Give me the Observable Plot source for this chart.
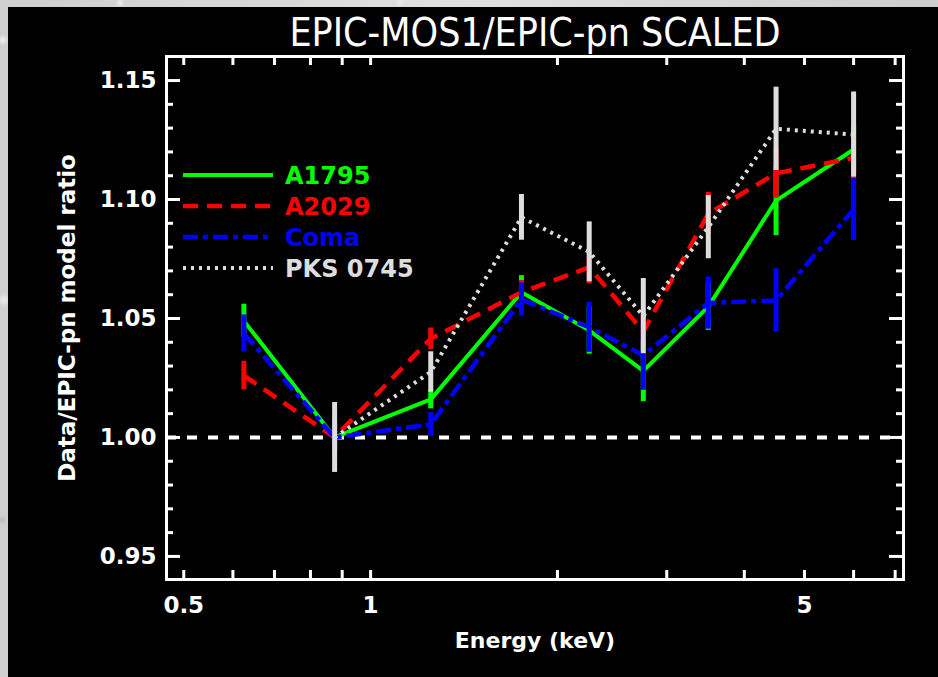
<!DOCTYPE html>
<html>
<head>
<meta charset="utf-8">
<script src="https://cdn.jsdelivr.net/npm/d3@7"></script>
<script src="https://cdn.jsdelivr.net/npm/@observablehq/plot@0.6"></script>
<style>
  html, body { margin: 0; padding: 0; }
  body {
    width: 938px; height: 677px; overflow: hidden; position: relative;
    background-color: #d4d4d4;
    background-image:
      radial-gradient(circle at 3px 40px, #efefef 0, transparent 6px),
      radial-gradient(circle at 120px 3px, #ececec 0, transparent 5px),
      radial-gradient(circle at 400px 2px, #e8e8e8 0, transparent 6px),
      radial-gradient(circle at 4px 300px, #ededed 0, transparent 7px),
      radial-gradient(circle at 2px 520px, #bdbdbd 0, transparent 5px),
      linear-gradient(90deg, #cfcfcf, #e0e0e0 50%, #cdcdcd);
  }
  #chart { position: absolute; left: 8px; top: 7px; width: 930px; height: 670px; background: #000; }
  #chart svg { display: block; }
  #legend { position: absolute; left: 0; top: 0; }
</style>
</head>
<body>
<div id="chart"></div>
<script>
// ---- data ----
const energy = [0.625, 0.875, 1.25, 1.75, 2.25, 2.75, 3.5, 4.5, 6.0];

const a1795     = [1.049, 1.000, 1.016, 1.061, 1.045, 1.028, 1.055, 1.0995, 1.121];
const a1795Err  = [0.007, 0.006, 0.004, 0.007, 0.010, 0.013, 0.010, 0.0147, 0.010];

const a2029     = [1.026, 1.000, 1.0415, 1.061, 1.0715, 1.0445, 1.094, 1.111, 1.1175];
const a2029Err  = [0.006, 0.006, 0.0045, 0.005, 0.007, 0.008, 0.009, 0.0105, 0.010];

const coma      = [1.0437, 1.000, 1.0055, 1.058, 1.0463, 1.0345, 1.0565, 1.0576, 1.0958];
const comaErr   = [0.0078, 0.006, 0.005, 0.007, 0.0105, 0.0147, 0.011, 0.0133, 0.013];

const pks       = [null, 1.000, 1.0275, 1.0925, 1.078, 1.051, 1.0884, 1.1297, 1.1273];
const pksErr    = [null, 0.0147, 0.0085, 0.0096, 0.0126, 0.0158, 0.0133, 0.0175, 0.0179];

const seriesNames  = ["A1795", "A2029", "Coma", "PKS 0745"];
const seriesColors = ["#00ff00", "#ff0000", "#0000ff", "#dddddd"];
const seriesDash   = [null, "15,9", "15,5,5,5", "3,5"];
const seriesWidth  = [4, 4.5, 4.5, 4];

const xTickValues  = [0.5, 0.6, 0.7, 0.8, 0.9, 1, 2, 3, 4, 5, 6, 7];
const xTickLabels  = [0.5, 1, 5];
const yMajorTicks  = [0.95, 1.00, 1.05, 1.10, 1.15];
const yMinorTicks  = [0.96, 0.97, 0.98, 0.99, 1.01, 1.02, 1.03, 1.04, 1.06, 1.07, 1.08, 1.09, 1.11, 1.12, 1.13, 1.14];

const titleText = "EPIC-MOS1/EPIC-pn SCALED";
const xLabel = "Energy (keV)";
const yLabel = "Data/EPIC-pn model ratio";

// ---- build tables ----
const values = [a1795, a2029, coma, pks];
const errs = [a1795Err, a2029Err, comaErr, pksErr];
const tables = values.map((vals, s) =>
  energy.map((e, i) => ({e, v: vals[i], err: errs[s][i]})).filter(d => d.v != null)
);

const W = 930, H = 670;
const mL = 158, mR = 35, mT = 49, mB = 98;
const frameH = H - mT - mB, frameW = W - mL - mR;

const font = "DejaVu Sans, sans-serif";
const marks = [];

// reference dashed line at 1.00
marks.push(Plot.ruleY([1.0], {stroke: "white", strokeWidth: 4, strokeDasharray: "10,11"}));

// series
tables.forEach((t, s) => {
  marks.push(Plot.line(t, {
    x: "e", y: "v", stroke: seriesColors[s], strokeWidth: seriesWidth[s],
    strokeDasharray: seriesDash[s], strokeLinejoin: "miter", strokeLinecap: "butt"
  }));
  marks.push(Plot.ruleX(t, {
    x: "e", y1: d => d.v - d.err, y2: d => d.v + d.err,
    stroke: seriesColors[s], strokeWidth: 5
  }));
});

// frame & ticks (inward, all four sides)
marks.push(Plot.frame({stroke: "white", strokeWidth: 3}));
marks.push(Plot.ruleX(xTickValues, {x: d => d, insetTop: frameH - 9, stroke: "white", strokeWidth: 3}));
marks.push(Plot.ruleX(xTickValues, {x: d => d, insetBottom: frameH - 9, stroke: "white", strokeWidth: 3}));
marks.push(Plot.ruleY(yMajorTicks, {y: d => d, insetRight: frameW - 14, stroke: "white", strokeWidth: 3}));
marks.push(Plot.ruleY(yMajorTicks, {y: d => d, insetLeft: frameW - 14, stroke: "white", strokeWidth: 3}));
marks.push(Plot.ruleY(yMinorTicks, {y: d => d, insetRight: frameW - 7, stroke: "white", strokeWidth: 3}));
marks.push(Plot.ruleY(yMinorTicks, {y: d => d, insetLeft: frameW - 7, stroke: "white", strokeWidth: 3}));

// tick labels
marks.push(Plot.text(xTickLabels, {
  x: d => d, frameAnchor: "bottom", dy: 26, text: d => String(d), textAnchor: "middle",
  fill: "white", fontSize: 23, fontWeight: "bold", fontFamily: font, lineAnchor: "middle"
}));
marks.push(Plot.text(yMajorTicks, {
  y: d => d, frameAnchor: "left", dx: -10, textAnchor: "end", text: d => d.toFixed(2),
  fill: "white", fontSize: 23, fontWeight: "bold", fontFamily: font, lineAnchor: "middle"
}));

// titles
marks.push(Plot.text([titleText], {
  text: d => d, frameAnchor: "top", dy: -23, textAnchor: "middle", fill: "white", fontSize: 39,
  fontFamily: "Liberation Sans Narrow, DejaVu Sans Condensed, sans-serif", lineAnchor: "middle"
}));
marks.push(Plot.text([xLabel], {
  text: d => d, frameAnchor: "bottom", dy: 61, textAnchor: "middle", fill: "white", fontSize: 22,
  fontWeight: "bold", fontFamily: font, lineAnchor: "middle"
}));
marks.push(Plot.text([yLabel], {
  text: d => d, frameAnchor: "left", dx: -99, rotate: -90, textAnchor: "middle", fill: "white", fontSize: 23,
  fontWeight: "bold", fontFamily: font, lineAnchor: "middle"
}));

const chart = Plot.plot({
  width: W, height: H,
  marginLeft: mL, marginRight: mR, marginTop: mT, marginBottom: mB,
  style: {background: "black", color: "white", overflow: "visible"},
  x: {type: "log", domain: [0.469, 7.22], axis: null},
  y: {domain: [0.9403, 1.1601], axis: null},
  marks
});
document.getElementById("chart").appendChild(chart);

// legend (inside plot, upper left)
const leg = d3.select("#chart").append("svg")
  .attr("id", "legend").attr("width", W).attr("height", H)
  .style("position", "absolute").style("left", 0).style("top", 0);
const legX1 = 175, legX2 = 265, legTextX = 277, legY0 = 168, legDY = 31;
seriesNames.forEach((name, s) => {
  const y = legY0 + s * legDY;
  leg.append("line").attr("x1", legX1).attr("x2", legX2).attr("y1", y).attr("y2", y)
    .attr("stroke", seriesColors[s]).attr("stroke-width", seriesWidth[s])
    .attr("stroke-dasharray", seriesDash[s]);
  leg.append("text").attr("x", legTextX).attr("y", y).attr("dy", "0.36em")
    .attr("fill", seriesColors[s]).attr("font-family", font).attr("font-weight", "bold")
    .attr("font-size", 24).text(name);
});
</script>
</body>
</html>
